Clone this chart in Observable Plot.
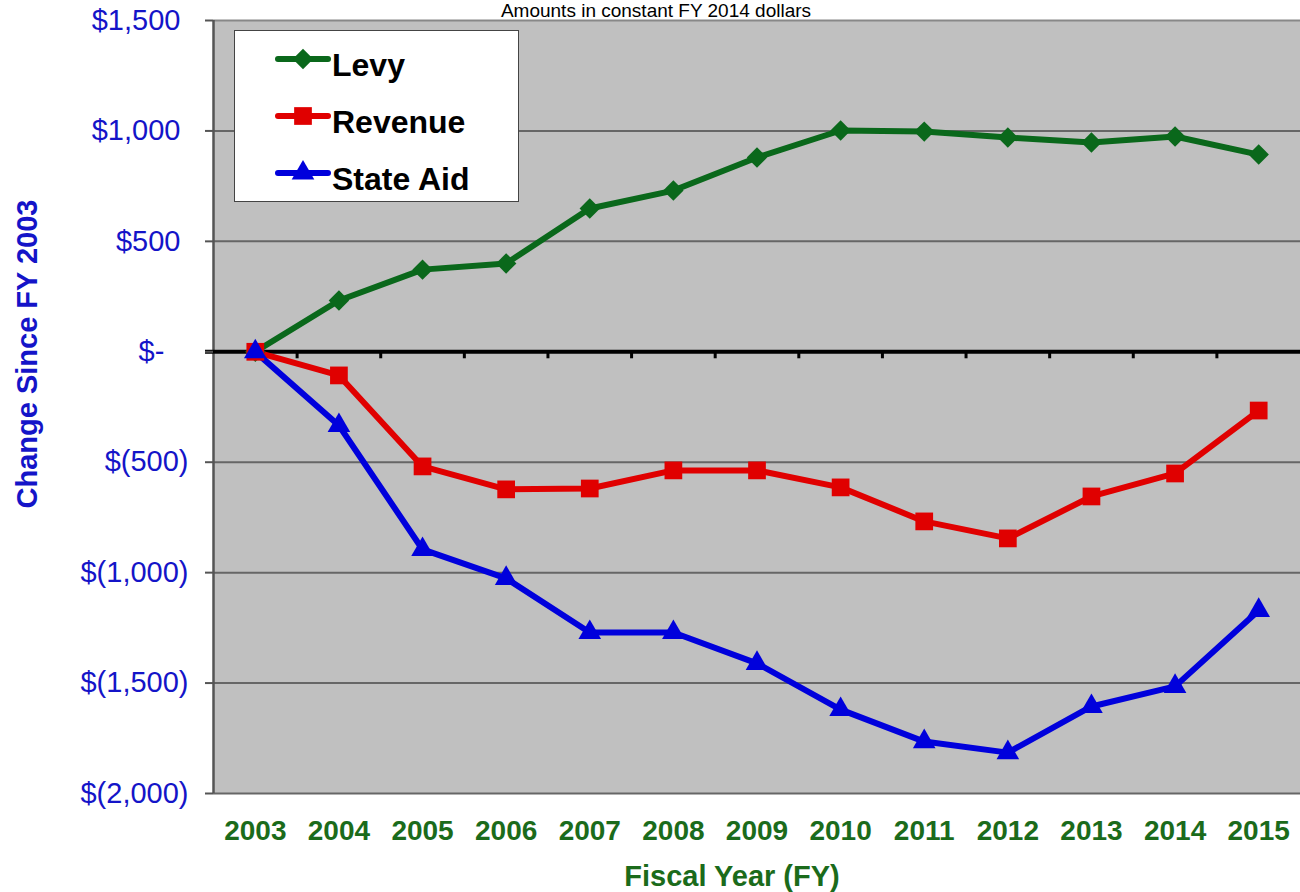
<!DOCTYPE html>
<html>
<head>
<meta charset="utf-8">
<script src="https://cdn.jsdelivr.net/npm/d3@7"></script>
<script src="https://cdn.jsdelivr.net/npm/@observablehq/plot@0.6"></script>
<style>
  html, body { margin: 0; padding: 0; background: #fff; overflow: hidden; }
  #wrap { position: relative; width: 1300px; height: 892px; overflow: hidden; font-family: "Liberation Sans", Arial, sans-serif; }
  #chart { position: absolute; left: 0; top: 0; }
  #title { position: absolute; left: 0; width: 1312px; top: 0px; text-align: center; font-family: "Liberation Sans", Arial, sans-serif; font-size: 19px; line-height: normal; color: #000; white-space: nowrap; }
  #ytitle { position: absolute; left: 27px; top: 354px; transform: translate(-50%, -50%) rotate(-90deg); font-weight: bold; font-size: 29px; line-height: 1; color: #1414c8; white-space: nowrap; }
  #xtitle { position: absolute; left: 732px; top: 876px; transform: translate(-50%, -50%); font-weight: bold; font-size: 29px; line-height: 1; color: #1b6b1b; white-space: nowrap; }
  #legend { position: absolute; left: 234px; top: 30px; width: 283px; height: 170px; background: #fff; border: 1.5px solid #444; }
  .lrow { position: absolute; left: 0; height: 40px; width: 283px; }
  .lrow svg { position: absolute; left: 40px; top: 0; }
  .lrow span { position: absolute; left: 97px; top: 4px; font-weight: bold; font-size: 32px; line-height: 40px; color: #000; white-space: nowrap; }
</style>
</head>
<body>
<div id="wrap">
  <div id="chart"></div>
  <div id="title">Amounts in constant FY 2014 dollars</div>
  <div id="ytitle">Change Since FY 2003</div>
  <div id="xtitle">Fiscal Year (FY)</div>
  <div id="legend"></div>
</div>
<script>
// ---- Data ----
const years = [2003, 2004, 2005, 2006, 2007, 2008, 2009, 2010, 2011, 2012, 2013, 2014, 2015];
const levy = [0, 232, 372, 400, 649, 730, 880, 1002, 997, 970, 948, 975, 893];
const revenue = [0, -107, -519, -623, -619, -537, -537, -614, -768, -845, -655, -551, -266];
const stateAid = [0, -334, -895, -1026, -1271, -1271, -1411, -1620, -1765, -1815, -1606, -1515, -1171];
const seriesNames = ["Levy", "Revenue", "State Aid"];
const yTicks = [1500, 1000, 500, 0, -500, -1000, -1500, -2000];

// ---- Styles ----
const colors = {"Levy": "#0a681b", "Revenue": "#e00000", "State Aid": "#0000dc"};
const symbols = {"Levy": "diamond2", "Revenue": "square", "State Aid": "triangle"};
const radii = {"Levy": 9.2, "Revenue": 10.0, "State Aid": 8.4};

const seriesValues = {"Levy": levy, "Revenue": revenue, "State Aid": stateAid};
const data = seriesNames.flatMap(s => years.map((yr, i) => ({series: s, year: yr, value: seriesValues[s][i]})));

const num = d3.format(",");
const fmt = v => v === 0 ? "$-\u00a0\u00a0\u00a0" : v > 0 ? "$" + num(v) + "\u00a0" : "$(" + num(-v) + ")";
const boundaries = years.slice(1).map(y => y - 0.5);
const x0 = years[0] - 0.5, x1 = years[years.length - 1] + 0.5;
const yMin = d3.min(yTicks), yMax = d3.max(yTicks);

const marks = [
  Plot.frame({fill: "#c0c0c0"}),
  Plot.ruleY(yTicks.filter(d => d !== 0 && d !== yMin && d !== yMax), {stroke: "#666", strokeWidth: 2}),
  Plot.ruleY([yMax], {stroke: "#888", strokeWidth: 2}),
  Plot.ruleY([yMin], {stroke: "#666", strokeWidth: 2}),
  Plot.ruleX([x0], {stroke: "#555", strokeWidth: 2.5}),
  Plot.ruleY([0], {stroke: "#000", strokeWidth: 4, insetLeft: -8}),
  Plot.ruleX(boundaries, {y1: 0, y2: 0, insetBottom: -7, stroke: "#000", strokeWidth: 3}),
];
for (const s of seriesNames) {
  const d = data.filter(r => r.series === s);
  marks.push(Plot.line(d, {x: "year", y: "value", stroke: colors[s], strokeWidth: 6}));
}
for (const s of seriesNames) {
  const d = data.filter(r => r.series === s);
  marks.push(Plot.dot(d, {x: "year", y: "value", symbol: symbols[s], r: radii[s], fill: colors[s], stroke: "none"}));
}
marks.push(
  Plot.axisY({ticks: yTicks, tickFormat: fmt, tickSize: 8, tickPadding: 17, fontSize: 29, fill: "#1414c8", stroke: "#555", strokeWidth: 2, label: null}),
  Plot.axisX({ticks: years, tickFormat: d => String(d), tickSize: 0, tickPadding: 27, fontSize: 28, fontWeight: "bold", fill: "#1b6b1b", label: null})
);

const chart = Plot.plot({
  width: 1300,
  height: 892,
  marginTop: 20,
  marginLeft: 213,
  marginRight: 0,
  marginBottom: 99,
  style: {fontFamily: "'Liberation Sans', Arial, sans-serif", background: "transparent", overflow: "visible"},
  x: {type: "linear", domain: [x0, x1]},
  y: {domain: [yMin, yMax]},
  marks
});
document.getElementById("chart").appendChild(chart);

// ---- Legend ----
const legend = d3.select("#legend");
const rowTops = [10, 67, 124];
seriesNames.forEach((s, i) => {
  const row = legend.append("div").attr("class", "lrow").style("top", rowTops[i] + "px");
  const svg = row.append("svg").attr("width", 56).attr("height", 40);
  svg.append("line").attr("x1", 3).attr("x2", 53).attr("y1", 18).attr("y2", 18)
    .attr("stroke", colors[s]).attr("stroke-width", 6).attr("stroke-linecap", "round");
  const symType = {diamond2: d3.symbolDiamond2, square: d3.symbolSquare, triangle: d3.symbolTriangle}[symbols[s]];
  svg.append("path").attr("transform", "translate(28,18)")
    .attr("d", d3.symbol(symType, Math.PI * radii[s] * radii[s])())
    .attr("fill", colors[s]);
  row.append("span").text(s);
});
</script>
</body>
</html>
